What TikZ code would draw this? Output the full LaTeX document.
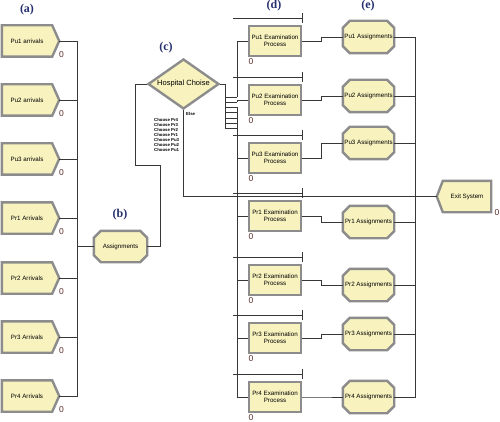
\documentclass[tikz,border=0pt]{standalone}
\usepackage{fontspec}
\setmainfont{Liberation Serif}
\setsansfont{Liberation Sans}
\usetikzlibrary{backgrounds,calc,shapes.geometric}
\definecolor{boxfill}{RGB}{247,242,190}
\definecolor{boxedge}{RGB}{140,140,140}
\definecolor{wirec}{RGB}{55,55,55}
\definecolor{lblc}{RGB}{38,48,112}
\definecolor{cntc}{RGB}{90,45,40}
\begin{document}
\begin{tikzpicture}[x=1pt,y=-1pt,
  sf/.style={font=\sffamily\fontsize{6.2}{7.2}\selectfont},
  arrbox/.style={sf, minimum width=50pt, minimum height=31pt, inner sep=0pt},
  asgbox/.style={sf, minimum width=51pt, minimum height=32pt, inner sep=0pt},
  bbox/.style={sf, minimum width=53pt, minimum height=31pt, inner sep=0pt},
  exitbox/.style={sf, minimum width=48pt, minimum height=31pt, inner sep=0pt},
  outline/.style={fill=boxfill, draw=boxedge, line width=2.4pt, line join=miter},
  exbox/.style={sf, align=center, minimum width=52pt, minimum height=30pt, inner sep=0pt, outline},
  decbox/.style={shape=diamond, aspect=1.42, minimum width=71pt, minimum height=50pt, inner sep=0pt, outline, font=\sffamily\fontsize{7.5}{8.5}\selectfont},
  ln/.style={draw=wirec, line width=0.8pt},
  cnt/.style={text=cntc, font=\sffamily\fontsize{8.5}{9}\selectfont, inner sep=0pt},
  lbl/.style={text=lblc, font=\bfseries\fontsize{12}{13}\selectfont, inner sep=0pt},
  tiny/.style={font=\sffamily\bfseries\fontsize{4.3}{5}\selectfont, inner sep=0pt, align=left}
]
\useasboundingbox (0,0) rectangle (500,422);

% (a) arrivals
\foreach \i/\y/\t in {1/41/Pu1 arrivals, 2/100/Pu2 arrivals, 3/159/Pu3 arrivals, 4/218/Pr1 Arrivals, 5/278/Pr2 Arrivals, 6/337/Pr3 Arrivals, 7/396/Pr4 Arrivals}{
  \node[arrbox] (a\i) at (27,\y) {\t};
  \node[cnt] (a\i c) at (61.5,\y+14) {0};
}
% (b)
\node[bbox] (asg) at (120.5,246.5) {Assignments};
% (c)
\node[decbox] (dec) at (183.5,84) {Hospital Choise};
\node[tiny, anchor=west] (else) at (186,114) {Else};
\node[tiny, anchor=north west] (choose) at (154,118) {Choose Pr4\\Choose Pr3\\Choose Pr2\\Choose Pr1\\Choose Pu3\\Choose Pu2\\Choose Pu1};
% (d) examination processes
\foreach \i/\y/\t in {1/41/Pu1, 2/100/Pu2, 3/158/Pu3, 4/216/Pr1, 5/280/Pr2, 6/338/Pr3, 7/397/Pr4}{
  \node[exbox] (e\i) at (275,\y) {\t\ Examination\\Process};
  \node[cnt] (e\i c) at (251,\y+21) {0};
  \draw[ln] (233,\y-23) -- (302,\y-23);
  \draw[ln] (302,\y-28) -- (302,\y-18);
}
% (e) assignments
\foreach \i/\y/\t in {1/37/Pu1, 2/96/Pu2, 3/143/Pu3, 4/222/Pr1, 5/285/Pr2, 6/334/Pr3, 7/397/Pr4}{
  \node[asgbox] (s\i) at (368.5,\y) {\t\ Assignments};
}
% exit
\node[exitbox] (exit) at (467,196.5) {Exit System};
\node[cnt] (exitc) at (497,213) {0};
\coordinate (xin) at ([xshift=-6pt]exit.west);

% labels
\node[lbl] (la) at (27,10) {(a)};
\node[lbl] (lb) at (120,215) {(b)};
\node[lbl] (lc) at (166,48) {(c)};
\node[lbl] (ld) at (274,6) {(d)};
\node[lbl] (le) at (368,6) {(e)};

% outlines on background
\begin{scope}[on background layer]
\fill[white] (0,0) rectangle (500,422);
\foreach \i in {1,...,7}{
  \path[outline] (a\i.north west) -- (a\i.north east) -- ([xshift=7pt]a\i.east) -- (a\i.south east) -- (a\i.south west) -- cycle;
}
\foreach \n in {asg,s1,s2,s3,s4,s5,s6,s7}{
  \path[outline] ([xshift=7pt]\n.north west) -- ([xshift=-7pt]\n.north east) -- ([yshift=-7pt]\n.north east) -- ([yshift=7pt]\n.south east) -- ([xshift=-7pt]\n.south east) -- ([xshift=7pt]\n.south west) -- ([yshift=7pt]\n.south west) -- ([yshift=-7pt]\n.north west) -- cycle;
}
\path[outline] (exit.north west) -- (exit.north east) -- (exit.south east) -- (exit.south west) -- (xin) -- cycle;
\end{scope}

% connectors arrivals -> assignments
\foreach \i in {1,...,7}{
  \draw[ln] ([xshift=7pt]a\i.east) -- ++(18,0) |- (asg.west);
}
% assignments -> decide
\draw[ln] (asg.east) -- ++(13,0) -- ++(0,-81.5) -- ++(-25,0) |- (dec.west);
% decide -> examinations
\foreach \i/\y in {1/97,2/102,3/107,4/112.5,5/118,6/123,7/128}{
  \coordinate (c\i) at (237,\y);
  \draw[ln] (dec.east) -- ++(5,0) |- (c\i);
  \draw[ln] (c\i) |- (e\i.west);
}
% else -> exit
\draw[ln] (dec.south) |- (xin);
% examinations -> assignments -> exit
\foreach \i in {1,...,7}{
  \draw[ln] (e\i.east) -- ++(19,0) |- (s\i.west);
  \draw[ln] (s\i.east) -- ++(21,0) |- (xin);
}
\end{tikzpicture}
\end{document}
